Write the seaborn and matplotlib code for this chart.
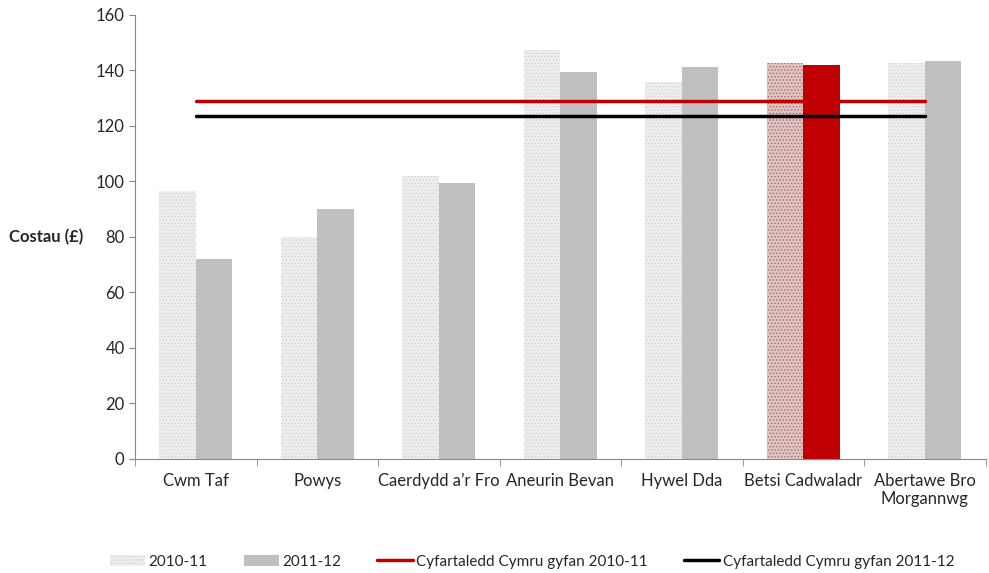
import numpy as np
import pandas as pd
import seaborn as sns
import matplotlib.pyplot as plt
from matplotlib.patches import Patch
from matplotlib.lines import Line2D

# data
regions = ["Cwm Taf", "Powys", "Caerdydd a\u2019r Fro", "Aneurin Bevan",
           "Hywel Dda", "Betsi Cadwaladr", "Abertawe Bro\nMorgannwg"]
cost_2010 = [96.5, 80, 102, 147.5, 136, 142.5, 142.8]
cost_2011 = [72, 90, 99.5, 139.5, 141.3, 142, 143.5]
avg_2010 = [128.9, 128.9, 128.9, 128.9, 128.9, 128.9, 128.9]
avg_2011 = [123.5, 123.5, 123.5, 123.5, 123.5, 123.5, 123.5]
years = ["2010-11", "2011-12"]

df = pd.DataFrame({
    "region": regions * 2,
    "year": [years[0]] * len(regions) + [years[1]] * len(regions),
    "cost": cost_2010 + cost_2011,
})

sns.set_style("white")
plt.rcParams["font.family"] = ["Lato", "DejaVu Sans"]
plt.rcParams["hatch.linewidth"] = 0.6

fig = plt.figure(figsize=(9.89, 5.73), dpi=100)
ax = fig.add_axes([0.1365, 0.199, 0.86, 0.775])

sns.barplot(data=df, x="region", y="cost", hue="year", hue_order=years,
            palette=["#eeeeee", "#c0c0c0"], width=0.6, saturation=1,
            legend=False, ax=ax)

highlight = "Betsi Cadwaladr"
for bar, reg in zip(ax.containers[0], regions):
    bar.set_hatch(".....")
    bar.set_linewidth(0)
    if reg == highlight:
        bar.set_facecolor("#e0c4c4")
        bar.set_edgecolor("#a86a6a")
    else:
        bar.set_edgecolor("#d2d2d2")
for bar, reg in zip(ax.containers[1], regions):
    bar.set_linewidth(0)
    if reg == highlight:
        bar.set_facecolor("#c00000")

xpos = np.arange(len(regions))
sns.lineplot(x=xpos, y=avg_2010, color="#c00000", linewidth=2.5, ax=ax)
sns.lineplot(x=xpos, y=avg_2011, color="black", linewidth=2.5, ax=ax)

ax.set_ylim(0, 160)
ax.set_xlim(-0.5, len(regions) - 0.5)
ax.set_yticks(range(0, 161, 20))
ax.tick_params(axis="y", labelsize=12, length=4, color="#888888", left=True)
ax.tick_params(axis="x", which="major", labelsize=12, length=0, pad=10)
ax.set_xticks(np.arange(-0.5, len(regions), 1), minor=True)
ax.tick_params(axis="x", which="minor", length=5, color="#888888", bottom=True)
ax.set_xticklabels(regions)
for lab in ax.get_xticklabels():
    lab.set_horizontalalignment("center")

ax.set_xlabel("")
ax.set_ylabel("Costau (\u00a3)", rotation=0, fontsize=12, fontweight="bold",
              labelpad=36, va="center")
for s in ["top", "right"]:
    ax.spines[s].set_visible(False)
for s in ["left", "bottom"]:
    ax.spines[s].set_color("#888888")
    ax.spines[s].set_linewidth(0.8)

handles = [
    Patch(facecolor="#eeeeee", edgecolor="#d2d2d2", hatch=".....", linewidth=0),
    Patch(facecolor="#c0c0c0", linewidth=0),
    Line2D([], [], color="#c00000", linewidth=2.5),
    Line2D([], [], color="black", linewidth=2.5),
]
labels = ["2010-11", "2011-12", "Cyfartaledd Cymru gyfan 2010-11",
          "Cyfartaledd Cymru gyfan 2011-12"]
fig.legend(handles, labels, loc="center", bbox_to_anchor=(0.538, 0.02),
           ncol=4, frameon=False, fontsize=11, handlelength=2.3,
           handletextpad=0.25, columnspacing=2.35, borderpad=0.2)

fig.savefig("out.png", dpi=100)
